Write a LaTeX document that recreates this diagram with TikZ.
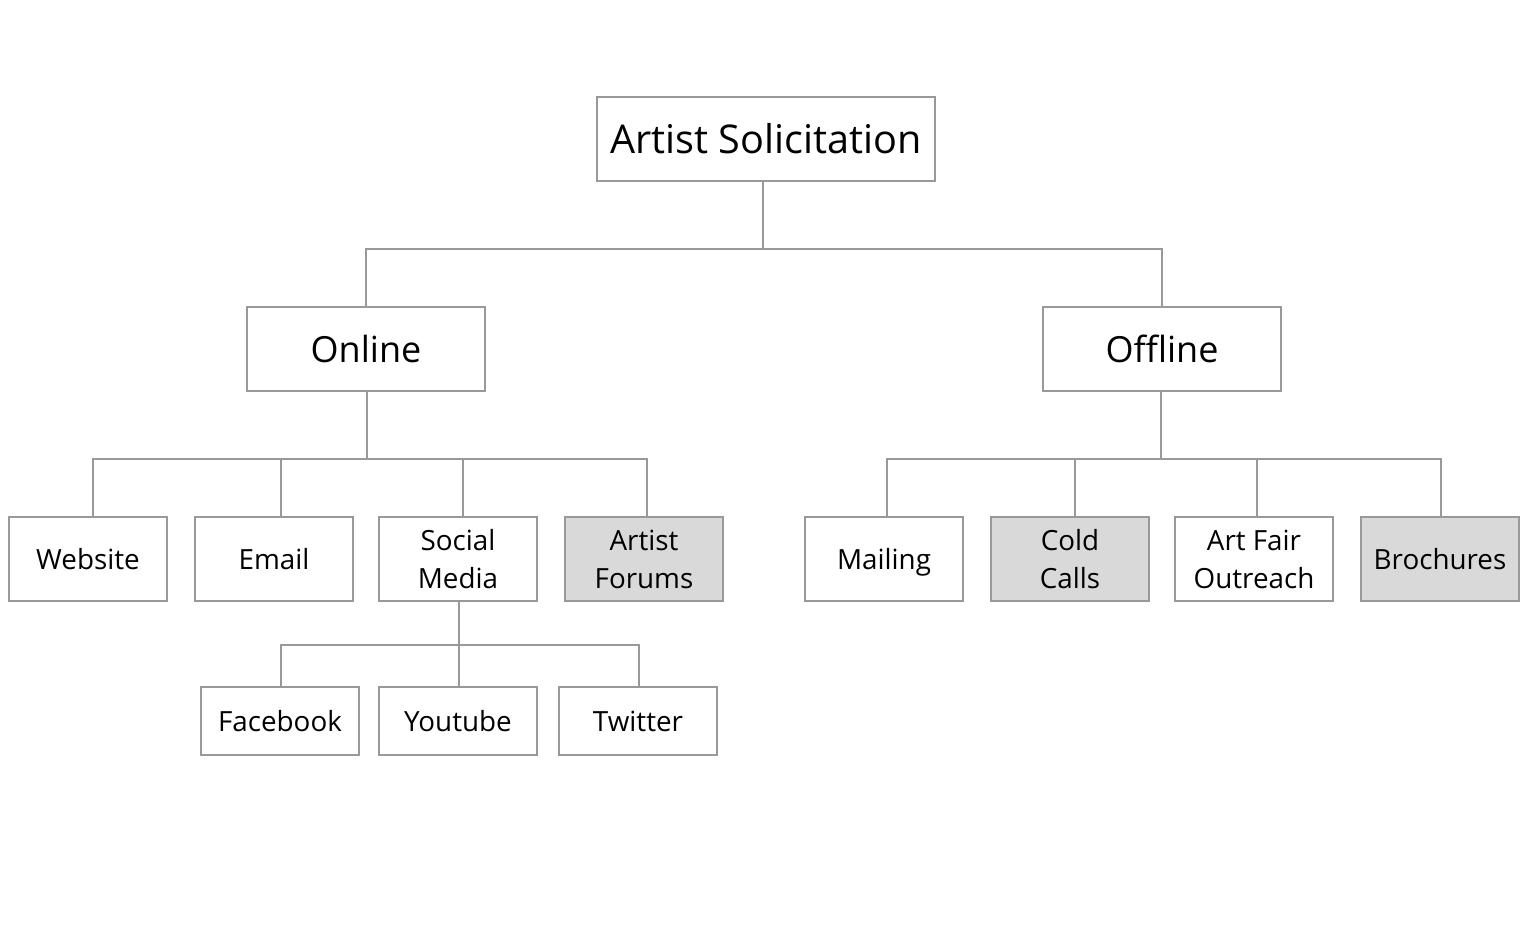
\documentclass[tikz,border=0pt]{standalone}
\usepackage{fontspec}
\setmainfont{Open Sans}
\usetikzlibrary{positioning}
\definecolor{edgegray}{RGB}{153,153,153}
\definecolor{leafgray}{RGB}{217,217,217}

\begin{document}
\begin{tikzpicture}[
    x=0.5pt, y=-0.5pt,
    box/.style={rectangle, draw=edgegray, line width=1pt, inner sep=0pt,
                outer sep=0pt, align=center, text=black},
    topbox/.style={box, minimum width=169pt, minimum height=42pt,
                   font=\fontsize{19.8}{24}\selectfont},
    midbox/.style={box, minimum width=119pt, minimum height=42pt,
                   font=\fontsize{18}{22}\selectfont, text depth=0pt},
    leaf/.style={box, minimum width=79pt, minimum height=42pt,
                 font=\fontsize{13.9}{19}\selectfont},
    subleaf/.style={leaf, minimum height=34pt},
    oneline/.style={text depth=0pt},
    shaded/.style={fill=leafgray},
    link/.style={draw=edgegray, line width=1pt},
  ]
  \useasboundingbox (0,0) rectangle (1530,926);

  % top levels
  \node[topbox] (root) at (766,139) {Artist Solicitation};
  \node[midbox] (online) at (366,349) {Online};
  \node[midbox] (offline) at (1162,349) {Offline};

  % online branch
  \node[leaf] (web) at (88,559) {Website};
  \node[leaf] (email) at (274,559) {Email};
  \node[leaf] (social) at (458,559) {Social\\Media};
  \node[leaf, shaded] (forums) at (644,559) {Artist\\Forums};

  % offline branch
  \node[leaf, oneline] (mail) at (884,559) {Mailing};
  \node[leaf, shaded] (cold) at (1070,559) {Cold\\Calls};
  \node[leaf] (fair) at (1254,559) {Art Fair\\Outreach};
  \node[leaf, shaded] (broch) at (1440,559) {Brochures};

  % social media
  \node[subleaf] (fb) at (280,721) {Facebook};
  \node[subleaf] (yt) at (458,721) {Youtube};
  \node[subleaf] (tw) at (638,721) {Twitter};

  % connectors
  \draw[link] ([xshift=-1.5pt]root.south) -- ++(0,68) -| (online.north);
  \draw[link] ([xshift=-1.5pt]root.south) -- ++(0,68) -| (offline.north);

  \foreach \n/\dx in {web/2.5pt, email/3.5pt, social/2.5pt, forums/1.5pt}
    \draw[link] ([xshift=.5pt]online.south) -- ++(0,68) -| ([xshift=\dx]\n.north);
  \foreach \n/\dx in {mail/1.5pt, cold/2.5pt, fair/1.5pt, broch/.5pt}
    \draw[link] ([xshift=-.5pt]offline.south) -- ++(0,68) -| ([xshift=\dx]\n.north);
  \foreach \n in {fb, yt, tw}
    \draw[link] ([xshift=.5pt]social.south) -- ++(0,44) -| ([xshift=.5pt]\n.north);
\end{tikzpicture}
\end{document}
